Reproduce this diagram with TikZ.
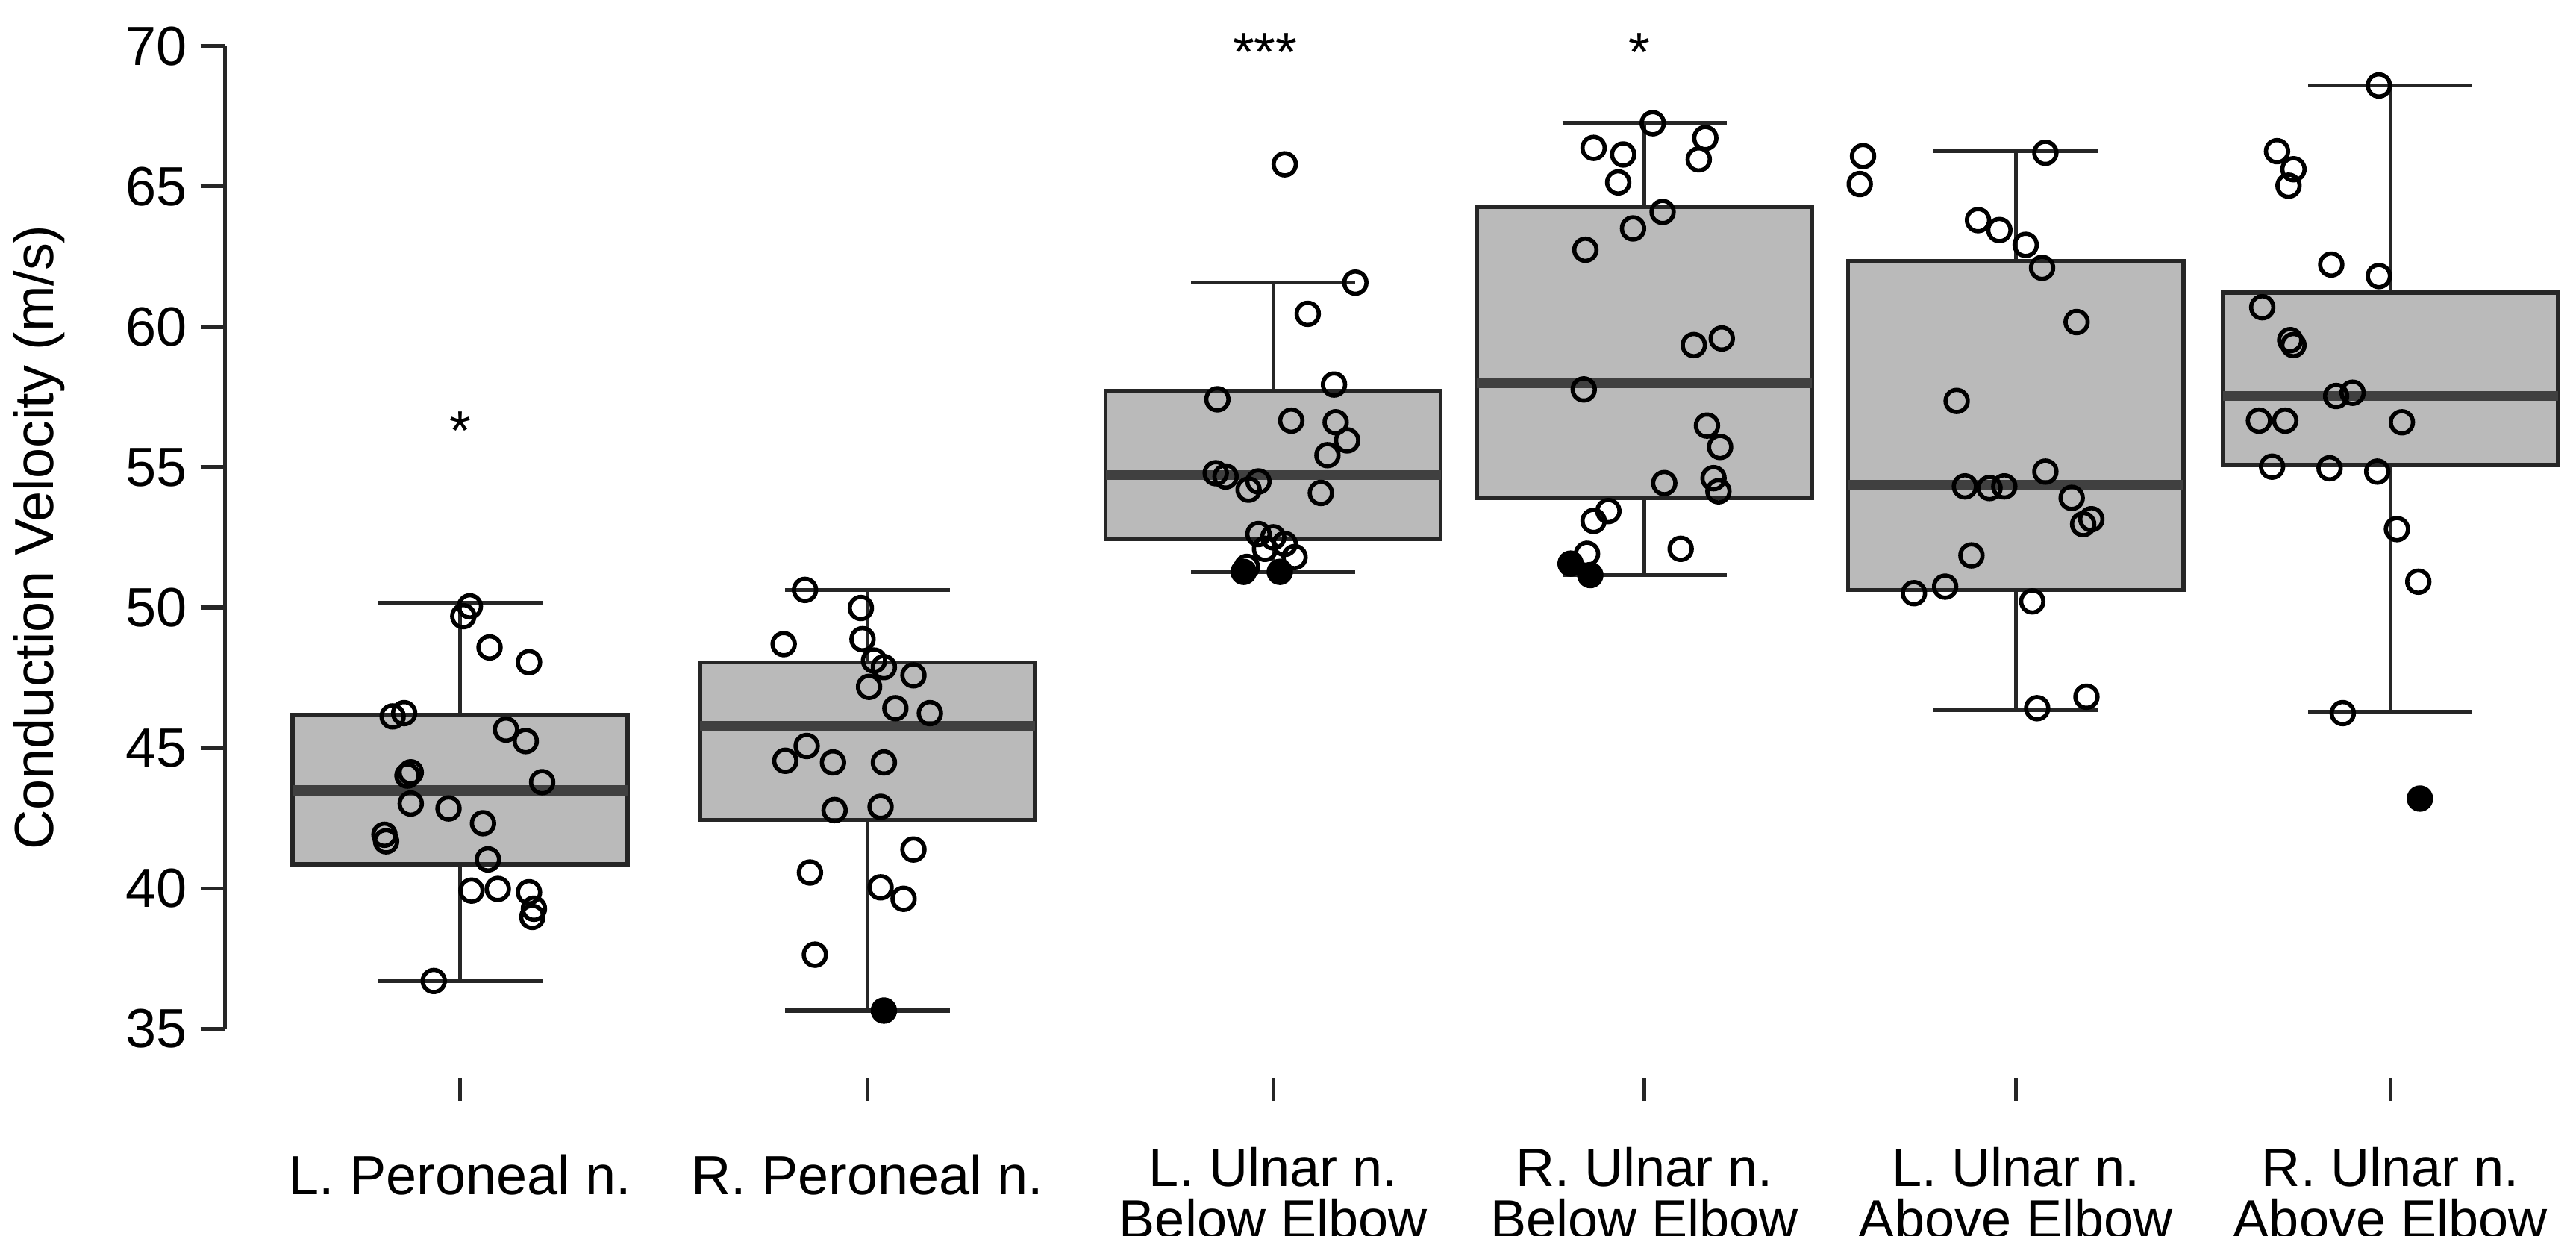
\documentclass[tikz,border=0pt]{standalone}
\usepackage{fontspec}
\setmainfont{Liberation Sans}
\begin{document}
\begin{tikzpicture}[x=0.022cm,y=-0.022cm,
  ln/.style={line width=1.5pt,color=black!85},
  bx/.style={ln,fill=black!27},
  med/.style={line width=3.8pt,color=black!75},
  pt/.style={circle,draw=black,line width=1.6pt,inner sep=0pt,minimum size=13.5*0.022cm},
  fpt/.style={pt,fill=black},
  lab/.style={font=\fontsize{21}{22.5}\selectfont,align=center,inner sep=0pt},
  lab2/.style={font=\fontsize{20.5}{19.5}\selectfont,align=center,inner sep=0pt}]
\useasboundingbox (0,0) rectangle (1568,752);
% axis
\draw[ln] (137,28) -- (137,626);
\foreach \v in {35,40,...,70}{
  \draw[ln] (122,{28+(70-\v)*17.09}) -- (137,{28+(70-\v)*17.09});
  \node[lab,anchor=east] (t\v) at (114,{28+(70-\v)*17.09}) {\v};}
\node[lab,rotate=90] (yl) at (24,327) {Conduction Velocity (m/s)};
% boxes
\foreach \c/\h/\wl/\wh/\ql/\qh/\m in {280/102/597/367/526/435/481, 528/102/615/359/499/403/442, 775/102/348/172/328/238/289, 1001/102/350/75/303/126/233, 1227/102/432/92/359/159/295, 1455/102/433/52/283/178/241}{
  \draw[ln] (\c,\wl) -- (\c,\wh);
  \draw[ln] (\c-50,\wl) -- (\c+50,\wl);
  \draw[ln] (\c-50,\wh) -- (\c+50,\wh);
  \draw[bx] (\c-\h,\ql) rectangle (\c+\h,\qh);
  \draw[med] (\c-\h,\m) -- (\c+\h,\m);
  \draw[ln] (\c,656) -- (\c,670);
}
\foreach \x/\y in {
282/375,286/369,298/394,322/403,246/434,239/436,250/470,248/472,308/444,320/451,330/476,273/492,250/489,234/508,235/512,294/501,297/523,287/542,303/541,322/543,325/553,324/558,264/597,
490/359,524/370,477/392,525/389,532/402,538/406,556/411,529/418,545/431,566/434,478/463,491/454,507/464,538/464,508/493,536/491,493/531,556/517,536/540,550/547,496/581,
782/100,825/172,796/191,812/234,741/243,813/257,820/268,786/256,808/277,740/288,746/290,766/293,760/298,804/300,766/325,775/327,782/331,770/334,788/339,759/345,
1006/75,970/90,1038/84,1034/97,988/94,985/111,1012/129,994/139,965/152,1031/210,1048/206,964/237,1039/259,1047/272,1043/291,1046/299,1013/294,979/311,970/317,1023/334,966/337,
1134/95,1245/93,1132/112,1204/134,1217/140,1233/149,1243/163,1264/196,1191/244,1196/296,1211/297,1220/296,1245/287,1261/303,1268/319,1273/316,1200/338,1184/357,1165/361,1237/366,1240/431,1270/424,
1448/52,1386/92,1396/103,1393/113,1419/161,1448/168,1377/187,1394/207,1396/210,1432/239,1422/241,1391/256,1375/256,1462/257,1383/284,1418/285,1447/287,1459/322,1472/354,1426/434}
  \node[pt] at (\x,\y) {};
\foreach \x/\y in {538/615,779/348,757/348,956/343,968/350,1473/486}
  \node[fpt] at (\x,\y) {};
\node[lab] (s1) at (280,262) {*};
\node[lab] (s3) at (770,32) {***};
\node[lab] (s4) at (998,32) {*};
\node[lab] (c1) at (280,715) {L. Peroneal n.};
\node[lab] (c2) at (528,715) {R. Peroneal n.};
\node[lab2] (c3) at (775,726) {L. Ulnar n.\\Below Elbow};
\node[lab2] (c4) at (1001,726) {R. Ulnar n.\\Below Elbow};
\node[lab2] (c5) at (1227,726) {L. Ulnar n.\\Above Elbow};
\node[lab2] (c6) at (1455,726) {R. Ulnar n.\\Above Elbow};
\end{tikzpicture}
\end{document}
